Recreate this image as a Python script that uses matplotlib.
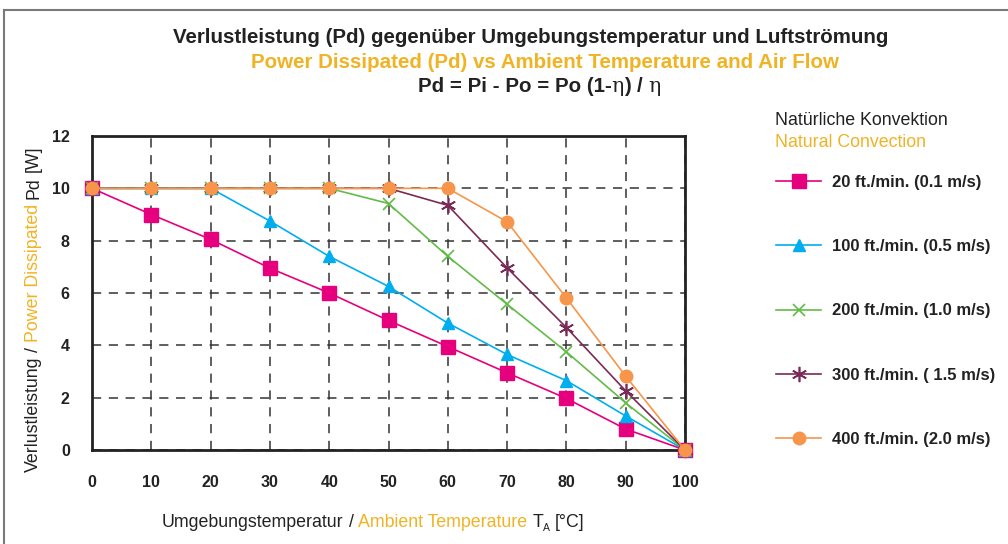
import matplotlib
matplotlib.use("Agg")
import matplotlib.pyplot as plt
from matplotlib.transforms import IdentityTransform
from matplotlib.lines import Line2D

# ambient temperature [°C]
temp = [0, 10, 20, 30, 40, 50, 60, 70, 80, 90, 100]

# power dissipated Pd [W] per air flow
pd_20 = [10, 9.0, 8.05, 6.95, 6.0, 4.95, 3.95, 2.95, 1.97, 0.8, 0]
pd_100 = [10, 10, 10, 8.75, 7.4, 6.25, 4.85, 3.65, 2.65, 1.3, 0]
pd_200 = [10, 10, 10, 10, 10, 9.42, 7.4, 5.57, 3.75, 1.8, 0]
pd_300 = [10, 10, 10, 10, 10, 10, 9.35, 6.96, 4.68, 2.26, 0]
pd_400 = [10, 10, 10, 10, 10, 10, 10, 8.72, 5.81, 2.82, 0]

labels = ["20 ft./min. (0.1 m/s)", "100 ft./min. (0.5 m/s)", "200 ft./min. (1.0 m/s)",
          "300 ft./min. ( 1.5 m/s)", "400 ft./min. (2.0 m/s)"]

YELLOW = "#f0b323"
SANS = ["Liberation Sans", "DejaVu Sans"]
NARROW = ["Liberation Sans Narrow", "Liberation Sans", "DejaVu Sans"]

plt.rcParams["font.family"] = SANS

fig = plt.figure(figsize=(10.08, 5.44), dpi=100)
ax = fig.add_axes([92 / 1008, 1 - 450 / 544, (685 - 92) / 1008, (450 - 136) / 544])

series = [
    (pd_20, "#e6007e", dict(marker="s", ms=10)),
    (pd_100, "#00aeef", dict(marker="^", ms=9)),
    (pd_200, "#62bb48", dict(marker="x", ms=9, mew=1.2)),
    (pd_300, "#7a2a56", dict(marker=(6, 2, 0), ms=11, mew=1.2)),
    (pd_400, "#f7964a", dict(marker="o", ms=9)),
]
handles = []
for (vals, col, mk), lab in zip(series, labels):
    h, = ax.plot(temp, vals, color=col, lw=1.2, mfc=col, mec=col, clip_on=False,
                 label=lab, zorder=3, **mk)
    handles.append(h)

ax.set_xlim(0, 100)
ax.set_ylim(0, 12)
ax.set_xticks(range(0, 101, 10))
ax.set_yticks(range(0, 13, 2))
ax.grid(True, color="#333333", lw=1.1, linestyle=(0, (6, 5)))
ax.tick_params(length=0, labelsize=11.5)
ax.tick_params(axis="x", pad=18)
ax.tick_params(axis="y", pad=16)
for t in ax.get_xticklabels() + ax.get_yticklabels():
    t.set_fontweight("bold")
    t.set_color("#222222")
for s in ax.spines.values():
    s.set_linewidth(2.0)
    s.set_color("#222222")

leg = fig.legend(handles=handles, loc="upper left", bbox_to_anchor=(776 / 1008, 1 - 175 / 544),
                 frameon=False, borderpad=0, borderaxespad=0, handlelength=2.7,
                 handletextpad=0.66, labelspacing=2.95,
                 prop=dict(family=SANS, weight="bold", size=12))
for t in leg.get_texts():
    t.set_color("#222222")

renderer = fig.canvas.get_renderer()


def pieces(x, y, parts, ha="left", vertical=False):
    # parts: (text, color, size, weight, family, dy) ; text None means a gap in px
    widths = []
    for p in parts:
        if p[0] is None:
            widths.append(p[1])
            continue
        s, col, size, weight, fam, dy = p
        tmp = fig.text(0, 0, s, fontsize=size, fontweight=weight, family=fam,
                       transform=IdentityTransform())
        widths.append(tmp.get_window_extent(renderer).width)
        tmp.remove()
    total = sum(widths)
    pos = x - total / 2 if ha == "center" else x
    for p, w in zip(parts, widths):
        if p[0] is not None:
            s, col, size, weight, fam, dy = p
            if vertical:
                xy = (y + dy, pos)
            else:
                xy = (pos, y + dy)
            fig.text(xy[0], xy[1], s, color=col, fontsize=size, fontweight=weight,
                     family=fam, rotation=90 if vertical else 0, rotation_mode="anchor",
                     ha="left", va="baseline", transform=IdentityTransform())
        pos += w


def sp(size):
    return size * 0.278 * 100 / 72


H = 544
TS = 14.8
pieces(531, H - 43, [("Verlustleistung (Pd) gegenüber Umgebungstemperatur und Luftströmung",
                      "#222222", TS, "bold", NARROW, 0)], ha="center")
pieces(545, H - 68, [("Power Dissipated (Pd) vs Ambient Temperature and Air Flow",
                      YELLOW, TS, "bold", NARROW, 0)], ha="center")
pieces(539, H - 92, [("Pd = Pi - Po = Po (1-", "#222222", TS, "bold", NARROW, 0),
                     ("η", "#222222", TS, "normal", ["DejaVu Serif"], 0),
                     (")", "#222222", TS, "bold", NARROW, 0),
                     (None, sp(TS)),
                     ("/", "#222222", TS, "bold", NARROW, 0),
                     (None, sp(TS)),
                     ("η", "#222222", TS, "normal", ["DejaVu Serif"], 0)], ha="center")

LS = 12.8
pieces(162, H - 527, [("Umgebungstemperatur", "#222222", LS, "normal", SANS, 0),
                      (None, sp(LS)), ("/", "#222222", LS, "normal", SANS, 0), (None, sp(LS)),
                      ("Ambient Temperature", YELLOW, LS, "normal", SANS, 0), (None, sp(LS)),
                      ("T", "#222222", LS, "normal", SANS, 0),
                      ("A", "#222222", 7.5, "normal", SANS, -4), (None, sp(LS)),
                      ("[°C]", "#222222", LS, "normal", SANS, 0)])

pieces(72, 38, [("Verlustleistung", "#222222", LS, "normal", SANS, 0),
                (None, sp(LS)), ("/", "#222222", LS, "normal", SANS, 0), (None, sp(LS)),
                ("Power Dissipated", YELLOW, LS, "normal", SANS, 0), (None, sp(LS)),
                ("Pd", "#222222", LS, "normal", SANS, 0), (None, sp(LS)),
                ("[W]", "#222222", LS, "normal", SANS, 0)], vertical=True)

fig.text(775, H - 125, "Natürliche Konvektion", color="#222222", fontsize=12.8,
         transform=IdentityTransform())
fig.text(775, H - 147, "Natural Convection", color=YELLOW, fontsize=12.8,
         transform=IdentityTransform())

# outer frame (top and left edges visible)
fig.add_artist(Line2D([3.5, 3.5], [0, H - 10], color="#7a7a7a", lw=1.5, transform=IdentityTransform()))
fig.add_artist(Line2D([3.5, 1008], [H - 10, H - 10], color="#7a7a7a", lw=1.5, transform=IdentityTransform()))

fig.savefig("out.png", dpi=100)
